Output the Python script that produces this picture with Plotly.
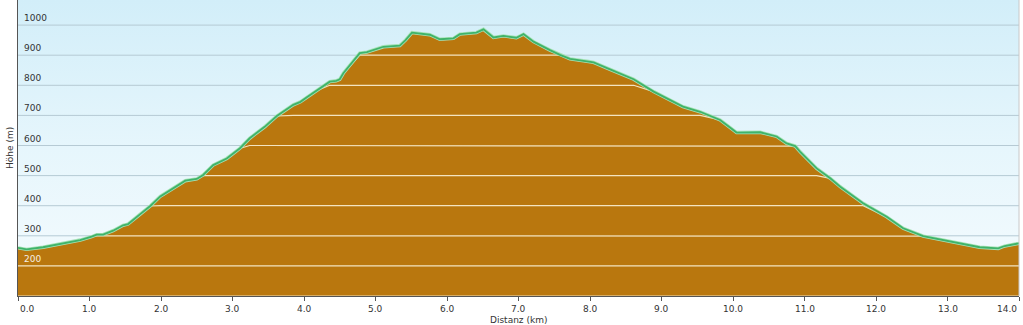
import numpy as np
import plotly.graph_objects as go

# ---- data ----
dist_km = [0.00, 0.12, 0.35, 0.59, 0.87, 1.03, 1.10, 1.19, 1.33, 1.47, 1.54, 1.71, 1.85, 1.99,
           2.17, 2.34, 2.50, 2.59, 2.73, 2.92, 3.10, 3.24, 3.45, 3.62, 3.85, 3.95, 4.04, 4.20,
           4.36, 4.45, 4.50, 4.55, 4.78, 4.88, 4.97, 5.11, 5.34, 5.42, 5.51, 5.76, 5.90, 6.09,
           6.18, 6.41, 6.51, 6.65, 6.79, 6.97, 7.07, 7.21, 7.44, 7.58, 7.72, 7.98, 8.05, 8.28,
           8.61, 8.89, 9.30, 9.54, 9.82, 10.05, 10.38, 10.61, 10.75, 10.87, 10.94, 11.17, 11.36,
           11.50, 11.82, 12.15, 12.38, 12.66, 13.08, 13.45, 13.71, 13.80, 14.00]
elev_m = [260, 255, 262, 272, 286, 297, 304, 304, 317, 335, 339, 372, 399, 431,
          458, 483, 489, 502, 535, 557, 590, 624, 662, 698, 735, 745, 760, 785,
          812, 815, 820, 840, 907, 910, 917, 928, 932, 950, 975, 968, 953, 956,
          970, 975, 986, 959, 964, 958, 970, 945, 917, 901, 888, 879, 876, 853,
          820, 779, 729, 712, 685, 643, 644, 630, 607, 598, 579, 524, 491,
          463, 408, 363, 325, 299, 280, 262, 258, 266, 275]

y_grid = [100, 200, 300, 400, 500, 600, 700, 800, 900, 1000]
y_tick_labels = ["200", "300", "400", "500", "600", "700", "800", "900", "1000"]
x_ticks = list(range(0, 15))
x_tick_labels = [f"{v:.1f}" for v in x_ticks]

Y_MIN, Y_MAX = 100, 1083.4
X_MIN, X_MAX = 0, 14

FONT = "DejaVu Sans"
x = np.array(dist_km, dtype=float)
y = np.array(elev_m, dtype=float)

fig = go.Figure()

# sky gradient background
fig.add_trace(go.Scatter(
    x=[X_MIN, X_MAX, X_MAX, X_MIN, X_MIN], y=[Y_MIN, Y_MIN, Y_MAX, Y_MAX, Y_MIN],
    mode="none", fill="toself",
    fillgradient=dict(type="vertical", start=Y_MIN, stop=Y_MAX,
                      colorscale=[[0, "#f5fbfe"], [0.5, "#e6f6fc"], [1, "#d2eef9"]]),
    hoverinfo="skip", showlegend=False))

# gray gridlines (behind terrain)
for g in y_grid:
    fig.add_trace(go.Scatter(x=[X_MIN, X_MAX], y=[g, g], mode="lines",
                             line=dict(color="#b6cad4", width=1),
                             hoverinfo="skip", showlegend=False))

# terrain fill
fig.add_trace(go.Scatter(x=x, y=y, mode="none", fill="tozeroy",
                         fillcolor="#b9770e", hoverinfo="skip", showlegend=False))

# cream gridlines over terrain (follow profile where below level; hidden under outline)
for g in y_grid:
    fig.add_trace(go.Scatter(x=x, y=np.minimum(y, g), mode="lines",
                             line=dict(color="#f3e4c0", width=1.2),
                             hoverinfo="skip", showlegend=False))

# outline halo + line
fig.add_trace(go.Scatter(x=x, y=y, mode="lines",
                         line=dict(color="#a6e2b6", width=3.4),
                         hoverinfo="skip", showlegend=False))
fig.add_trace(go.Scatter(x=x, y=y, mode="lines",
                         line=dict(color="#3fb36a", width=1.8),
                         hoverinfo="skip", showlegend=False))

annotations = []
# y tick labels above gridlines
for val, lab in zip(y_grid[1:], y_tick_labels):
    annotations.append(dict(x=0, xref="paper", y=val, yref="y", text=lab,
                            showarrow=False, xanchor="left", yanchor="bottom",
                            xshift=4, yshift=0,
                            font=dict(family=FONT, size=9,
                                      color="#f4efe4" if val == 200 else "#333333")))
# x tick labels
for i, (val, lab) in enumerate(zip(x_ticks, x_tick_labels)):
    anchor = "left" if i == 0 else ("right" if i == len(x_ticks) - 1 else "center")
    annotations.append(dict(x=val, xref="x", y=0, yref="paper", text=lab,
                            showarrow=False, xanchor=anchor, yanchor="middle",
                            yshift=-12.5, font=dict(family=FONT, size=9, color="#333333")))
# axis titles
annotations.append(dict(x=0.5, xref="paper", y=0, yref="paper", text="Distanz (km)",
                        showarrow=False, xanchor="center", yanchor="middle", yshift=-24,
                        font=dict(family=FONT, size=9, color="#333333")))
annotations.append(dict(x=0, xref="paper", y=0.5, yref="paper", text="Höhe (m)",
                        showarrow=False, xanchor="center", yanchor="middle", xshift=-8,
                        textangle=-90, font=dict(family=FONT, size=9, color="#333333")))

fig.update_layout(
    width=1023, height=325,
    margin=dict(l=18, r=4, t=0, b=29),
    paper_bgcolor="white", plot_bgcolor="#e6f6fc",
    showlegend=False,
    annotations=annotations,
    xaxis=dict(range=[X_MIN, X_MAX], showgrid=False, zeroline=False,
               showline=True, linecolor="#555555", linewidth=1, mirror=False,
               ticks="outside", ticklen=4, tickcolor="#555555",
               tickvals=x_ticks, showticklabels=False, layer="above traces"),
    yaxis=dict(range=[Y_MIN, Y_MAX], showgrid=False, zeroline=False,
               showline=True, linecolor="#555555", linewidth=1,
               ticks="", showticklabels=False, layer="above traces"),
    shapes=[dict(type="line", xref="paper", yref="paper", x0=1, x1=1, y0=0, y1=1,
                 line=dict(color="#c8c8c8", width=1))],
)

fig.write_html("out.html")
